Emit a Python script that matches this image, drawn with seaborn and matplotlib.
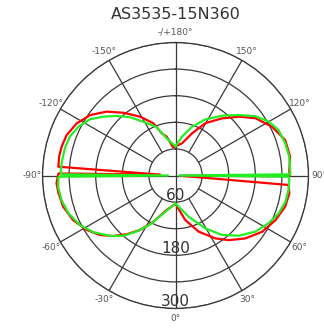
import numpy as np
import pandas as pd
import matplotlib
matplotlib.use("Agg")
import matplotlib.pyplot as plt
import seaborn as sns

title = "AS3535-15N360"

# angular tick labels (degrees, 0 at bottom, positive to the right)
tick_deg = [0, 30, 60, 90, 120, 150, 180, -150, -120, -90, -60, -30]
tick_labels = ["0°", "30°", "60°", "90°", "120°", "150°", "-/+180°",
               "-150°", "-120°", "-90°", "-60°", "-30°"]
ring_values = [60, 120, 180, 240, 300]
ring_labels = [60, 180, 300]

red_deg = [-180, -175, -167.2, -162, -157, -148.9, -140.3, -132.8, -125.3, -117.8,
           -110.4, -104.2, -99.2, -94.3, -93.3, -91, -90, -86.2, -81.4, -74.5,
           -66.5, -58.5, -51.8, -45.8, -39.7, -33.1, -25.7, -14.3, 0, 12.4, 22.4,
           32.4, 39.5, 48, 57, 66, 74.1, 81.1, 85.2, 87.8, 89.7, 92.5, 99.3,
           107.9, 116.8, 125.6, 132.9, 140.9, 150.3, 158.6, 168.6, 180]
red_val = [66, 64, 90, 100, 128, 155, 184, 212, 236, 252,
           262, 265, 266, 265, 35, 264, 265, 269, 267, 263,
           252, 235, 217, 196, 172, 147, 116, 80, 64, 103, 137,
           168, 189, 212, 233, 247, 257, 260, 256, 11, 257, 257, 262,
           260, 244, 222, 195, 166, 136, 102, 74, 66]

green_deg = [-180, -168.5, -158.3, -149.1, -142, -135.3, -129.2, -123.3, -116.7,
             -110.2, -103.8, -97.8, -92.7, -90.6, -90, -89.4, -84.5, -77.8,
             -70.6, -62.6, -55.4, -47.3, -40.9, -34.3, -27.3, -17.9, 0, 17.8,
             29.4, 38, 46.4, 54.8, 62.9, 69.9, 76.6, 82.7, 87.7, 89.4, 90, 90.6,
             92.7, 99.4, 106.3, 113.8, 120, 126.7, 133.8, 142.1, 152.1, 161.3,
             170.5, 180]
green_val = [66, 82, 118, 141, 167, 189, 210, 231, 245,
             254, 257, 258, 259, 258, 17, 264, 266, 263,
             256, 243, 225, 201, 180, 152, 124, 90, 63, 98,
             137, 170, 197, 220, 236, 248, 255, 257, 257, 255, 8, 259,
             259, 260, 258, 254, 243, 224, 197, 171, 143, 116,
             89, 66]

grid_color = "#3e3636"

fig = plt.figure(figsize=(3.24, 3.29), dpi=100)
ax = fig.add_axes([0.1312, 0.0623, 0.821, 0.8085], projection="polar")
ax.set_theta_zero_location("S")
ax.set_theta_direction(1)

red_df = pd.DataFrame({"theta": np.deg2rad(red_deg), "r": red_val})
green_df = pd.DataFrame({"theta": np.deg2rad(green_deg), "r": green_val})
sns.lineplot(data=red_df, x="theta", y="r", ax=ax, color="#ff0000",
             linewidth=1.6, sort=False, estimator=None)
sns.lineplot(data=green_df, x="theta", y="r", ax=ax, color="#22ee22",
             linewidth=1.6, sort=False, estimator=None)

# spokes drawn manually (diagonals start at the first ring)
for d in tick_deg:
    t = np.deg2rad(d)
    r0 = 0 if d % 90 == 0 else ring_values[0]
    ax.plot([t, t], [r0, ring_values[-1]], color=grid_color, linewidth=0.9, zorder=1)

ax.set_thetalim(-np.pi, np.pi)
ax.set_ylim(0, 300)

# grid: rings
ax.set_yticks(ring_values)
ax.set_yticklabels([])
ax.yaxis.grid(True, color=grid_color, linewidth=0.9)
ax.xaxis.grid(False)
ax.set_xticks(np.deg2rad(tick_deg))
ax.set_xticklabels(tick_labels, fontsize=6.5, color="#555555")
ax.tick_params(axis="x", pad=-3)
ax.spines["polar"].set_color(grid_color)
ax.spines["polar"].set_linewidth(0.9)

for v in ring_labels:
    ax.text(0, v - 15, str(v), ha="center", va="center", fontsize=11,
            color="#333333", zorder=5)

ax.set_xlabel("")
ax.set_ylabel("")
fig.text(0.543, 0.955, title, ha="center", va="center", fontsize=11.5, color="#333333")

fig.savefig("out.png", dpi=100)
